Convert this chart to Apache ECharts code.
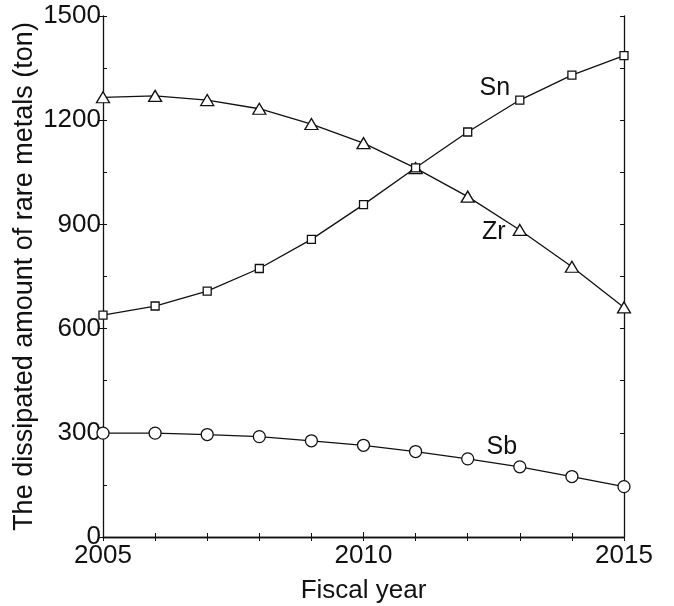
<!doctype html>
<html>
<head>
<meta charset="utf-8">
<title></title>
<script src="https://cdn.jsdelivr.net/npm/echarts@6/dist/echarts.min.js"></script>
<style>
  html, body { margin: 0; padding: 0; background: #fff; }
</style>
</head>
<body>
<div id="chart" style="width: 674px; height: 606px;"></div>
<script>
var years = [2005, 2006, 2007, 2008, 2009, 2010, 2011, 2012, 2013, 2014, 2015];
var zr = [1266, 1270, 1258, 1233, 1189, 1134, 1062, 980, 884, 778, 661];
var sn = [639, 665, 708, 773, 857, 957, 1063, 1166, 1258, 1330, 1386];
var sb = [299, 299, 295, 289, 277, 264, 246, 225, 202, 174, 145];

var font = 'Liberation Sans, Arial, sans-serif';
var ink = '#111';

// put the series name next to one of its points
function pairs(vals, name, at, pos, offset) {
    return vals.map(function (v, i) {
        var item = { value: [years[i], v] };
        if (i === at) {
            item.label = {
                show: true, formatter: name, position: pos, offset: offset,
                fontSize: 25, color: ink, fontFamily: font
            };
        }
        return item;
    });
}

function lineSeries(data, symbol, size) {
    return {
        type: 'line',
        data: data,
        symbol: symbol,
        symbolSize: size,
        showAllSymbol: true,
        lineStyle: { color: ink, width: 1.3 },
        itemStyle: { color: '#fff', borderColor: ink, borderWidth: 1.3 },
        z: symbol === 'rect' ? 3 : 2
    };
}

function plain(v) { return String(v); }

var chart = echarts.init(document.getElementById('chart'));
var option = {
    animation: false,
    backgroundColor: '#fff',
    grid: { left: 103, right: 50, top: 16, bottom: 69, outerBoundsMode: 'none', containLabel: false },
    xAxis: [{
        type: 'value', min: 2005, max: 2015, interval: 5,
        name: 'Fiscal year', nameLocation: 'middle', nameGap: 41,
        nameTextStyle: { fontSize: 26, color: ink, fontFamily: font },
        axisLine: { lineStyle: { color: ink, width: 1.3 } },
        axisTick: { inside: true, length: 5, lineStyle: { color: ink } },
        minorTick: { show: true, splitNumber: 5, length: 4, lineStyle: { color: ink } },
        axisLabel: { fontSize: 26, color: ink, fontFamily: font, margin: 6, formatter: plain },
        splitLine: { show: false }
    }, {
        type: 'value', position: 'top', min: 2005, max: 2015, interval: 1,
        axisLine: { show: true, lineStyle: { color: ink, width: 1.3 } },
        axisTick: { inside: true, length: 4, lineStyle: { color: ink } },
        axisLabel: { show: false },
        splitLine: { show: false }
    }],
    yAxis: [{
        type: 'value', min: 0, max: 1500, interval: 300,
        name: 'The dissipated amount of rare metals (ton)', nameLocation: 'middle', nameGap: 65,
        nameMoveOverlap: false,
        nameTextStyle: { fontSize: 27, color: ink, fontFamily: font },
        axisLine: { show: true, lineStyle: { color: ink, width: 1.3 } },
        axisTick: { inside: true, length: 4, lineStyle: { color: ink } },
        minorTick: { show: true, splitNumber: 2, length: 4, lineStyle: { color: ink } },
        axisLabel: { fontSize: 26, color: ink, fontFamily: font, margin: 2, formatter: plain },
        splitLine: { show: false }
    }, {
        type: 'value', position: 'right', min: 0, max: 1500, interval: 150,
        axisLine: { show: true, lineStyle: { color: ink, width: 1.3 } },
        axisTick: { inside: true, length: 4, lineStyle: { color: ink } },
        axisLabel: { show: false },
        splitLine: { show: false }
    }, {
        // outward half of the left major ticks
        type: 'value', position: 'left', min: 0, max: 1500, interval: 300,
        axisLine: { show: false },
        axisTick: { inside: false, length: 4, lineStyle: { color: ink } },
        axisLabel: { show: false },
        splitLine: { show: false }
    }],
    series: [
        lineSeries(pairs(zr, 'Zr', 8, 'left', [-2, 2]), 'triangle', [13, 11]),
        lineSeries(pairs(sn, 'Sn', 8, 'left', [0, -12]), 'rect', 8),
        lineSeries(pairs(sb, 'Sb', 8, 'top', [-18, 4]), 'circle', 12)
    ]
};
chart.setOption(option);
</script>
</body>
</html>
